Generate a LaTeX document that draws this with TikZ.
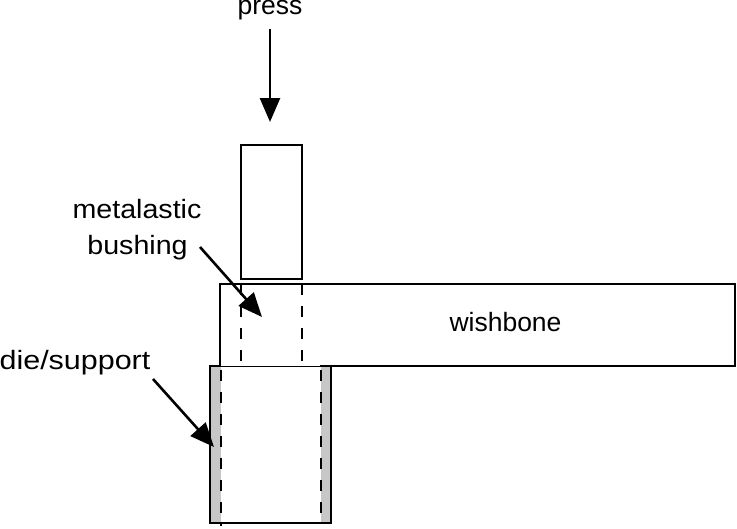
\documentclass[tikz,border=0pt]{standalone}
\usepackage{fontspec}
\setmainfont{Liberation Sans}
\usetikzlibrary{arrows.meta}
\definecolor{diegray}{gray}{0.78}
\newfontfamily\spreadA[FakeStretch=1.08]{Liberation Sans}
\newfontfamily\spreadB[FakeStretch=1.15]{Liberation Sans}
\tikzset{
  part/.style={draw=black,line width=2.6pt,fill=white,minimum width=#1,inner sep=0pt,outer sep=0pt,anchor=north west},
  lbl/.style={font=\fontsize{26.5pt}{31pt}\selectfont,inner sep=0pt,align=center},
  hidden/.style={line width=2.6pt,dash pattern=on 11pt off 11pt},
  pointer/.style={line width=2.6pt,-{Triangle[length=24pt,width=20pt]}},
}
\begin{document}
\begin{tikzpicture}[x=1pt,y=-1pt]
\useasboundingbox (0,0) rectangle (737,528);
% die/support
\node[part=121pt,minimum height=157pt,fill=diegray] (die) at (210,366) {};
\fill[white] (221,367) rectangle (321,522);
\draw[line width=1.2pt] (221,366) -- (321,366);
% wishbone
\path[fill=white] (220,284) rectangle (735,365.5);
\draw[line width=2.6pt,line cap=rect] (220,366) -- (220,284) -- (735,284) -- (735,366) -- (321,366);
\node[lbl] (wishbone) at (505.5,322) {wishbone};
% press block
\node[part=61pt,minimum height=134pt] (block) at (241,145) {};
% hidden lines
\draw[hidden] (241,284) -- (241,366);
\draw[hidden] (302,284) -- (302,366);
\draw[hidden] (221,370) -- (221,526);
\draw[hidden] (321,370) -- (321,516);
% labels
\node[lbl,anchor=base] (press) at (270,14) {press};
\node[lbl,anchor=base] (metalastic) at (137,218) {\spreadA metalastic};
\node[lbl,anchor=base] (bushing) at (137.5,254) {\spreadA bushing};
\node[lbl,anchor=base] (dielabel) at (75,369) {\spreadB die/support};
% pointers
\coordinate (pressStart) at (270,29);
\coordinate (pressEnd) at (270,122);
\coordinate (bushStart) at (200,247);
\coordinate (bushEnd) at (262,317);
\coordinate (dieStart) at (153,379);
\coordinate (dieEnd) at (214,447);
\draw[pointer] (pressStart) -- (pressEnd);
\draw[pointer] (bushStart) -- (bushEnd);
\draw[pointer] (dieStart) -- (dieEnd);
\end{tikzpicture}
\end{document}
